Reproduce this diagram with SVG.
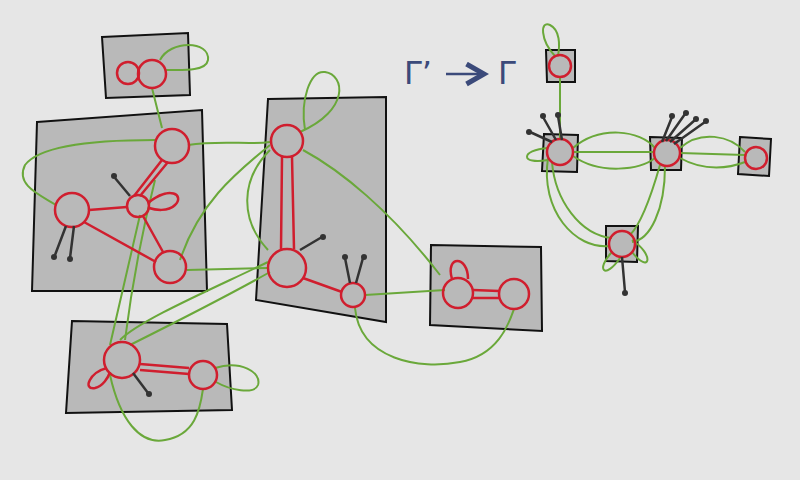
<svg xmlns="http://www.w3.org/2000/svg" width="800" height="480" viewBox="0 0 800 480">
<style>
.box{fill:#b9b9b9;stroke:#111;stroke-width:2}
.r{fill:none;stroke:#d01e2e;stroke-width:2.5}
.g{fill:none;stroke:#6aa83a;stroke-width:2}
.k{fill:none;stroke:#333;stroke-width:2.5}
.t{fill:#3b4a7a;font-family:"DejaVu Sans",sans-serif;font-size:32px}
</style>
<defs><marker id="a" markerWidth="10" markerHeight="10" refX="8" refY="5" orient="auto"><path d="M1,1 L8,5 L1,9" fill="none" stroke="#3b4a7a" stroke-width="2"/></marker></defs>
<rect width="800" height="480" fill="#e6e6e6"/>
<g id="boxes">
<polygon class="box" points="102,37 188,33 190,95 106,98"/>
<polygon class="box" points="37,122 202,110 207,291 32,291"/>
<polygon class="box" points="268,99 386,97 386,322 256,300"/>
<polygon class="box" points="72,321 227,324 232,410 66,413"/>
<polygon class="box" points="431,245 541,247 542,331 430,325"/>
<polygon class="box" points="546,50 575,50 575,82 547,82"/>
<polygon class="box" points="544,134 578,135 577,172 542,171"/>
<polygon class="box" points="650,137 682,138 681,170 651,170"/>
<polygon class="box" points="740,137 771,139 769,176 738,174"/>
<polygon class="box" points="606,226 638,226 637,262 606,261"/>
</g>
<g id="connectors">
<path class="g" d="M152,88 L162,128 M160,60 C170,40 210,40 208,60 C206,72 180,70 166,70"/>
<path class="g" d="M155,140 C100,140 40,145 25,165 C15,185 40,195 56,205"/>
<path class="g" d="M188,145 C220,140 250,145 270,142"/>
<path class="g" d="M305,130 C300,100 310,70 325,72 C345,75 350,110 300,132"/>
<path class="g" d="M303,150 C340,170 390,210 440,275"/>
<path class="g" d="M270,145 C240,170 200,200 180,260"/>
<path class="g" d="M187,270 L268,268"/>
<path class="g" d="M270,150 C240,180 240,220 268,250"/>
<path class="g" d="M270,272 C220,300 160,330 130,345"/>
<path class="g" d="M268,262 C210,290 140,320 120,340"/>
<path class="g" d="M140,215 C130,260 120,300 110,345"/>
<path class="g" d="M155,180 C140,240 130,300 125,340"/>
<path class="g" d="M110,375 C120,420 140,445 165,440 C195,435 200,410 203,389"/>
<path class="g" d="M215,368 C240,360 262,372 258,385 C254,395 230,390 216,382"/>
<path class="g" d="M365,295 L445,290"/>
<path class="g" d="M355,308 C360,360 420,370 460,362 C500,355 510,320 514,309"/>
<path class="g" d="M560,77 L560,139 M555,56 C540,40 540,20 550,25 C560,30 560,45 558,56"/>
<path class="g" d="M573,148 C600,125 640,130 655,148 M573,156 C600,175 640,170 655,158 M573,152 L655,152"/>
<path class="g" d="M680,148 C700,130 730,135 745,152 M680,158 C705,172 730,168 745,162 M680,153 L745,155"/>
<path class="g" d="M548,158 C540,210 575,250 610,246 M552,162 C555,200 580,235 612,238"/>
<path class="g" d="M665,166 C665,210 650,240 632,242 M660,165 C650,200 640,225 630,235"/>
<path class="g" d="M548,148 C520,150 520,165 548,160"/>
<path class="g" d="M612,252 C595,270 605,280 620,258 M632,252 C650,275 655,255 632,240"/>
</g>
<g id="red">
<circle class="r" cx="128" cy="73" r="11"/><circle class="r" cx="152" cy="74" r="14"/>
<path class="r" d="M139,70 L138,72 M138,76 L139,78"/>
<circle class="r" cx="172" cy="146" r="17"/><circle class="r" cx="72" cy="210" r="17"/>
<circle class="r" cx="138" cy="206" r="11"/><circle class="r" cx="170" cy="267" r="16"/>
<path class="r" d="M148,203 C170,185 185,195 175,205 C168,212 155,210 149,208"/>
<path class="r" d="M134,196 L162,160 M140,196 L168,162 M89,210 L127,207 M84,222 L156,262 M143,216 L163,252"/>
<circle class="r" cx="287" cy="141" r="16"/><circle class="r" cx="287" cy="268" r="19"/><circle class="r" cx="353" cy="295" r="12"/>
<path class="r" d="M282,157 L281,249 M292,157 L294,249 M303,278 L342,292"/>
<circle class="r" cx="122" cy="360" r="18"/><circle class="r" cx="203" cy="375" r="14"/>
<path class="r" d="M107,368 C90,372 82,390 95,388 C103,386 108,378 110,372 M140,364 L189,368 M140,370 L189,374"/>
<circle class="r" cx="458" cy="293" r="15"/><circle class="r" cx="514" cy="294" r="15"/>
<path class="r" d="M452,279 C445,255 468,255 468,279 M473,290 L499,291 M473,298 L499,298"/>
<circle class="r" cx="560" cy="66" r="11"/><circle class="r" cx="560" cy="152" r="13"/>
<circle class="r" cx="667" cy="153" r="13"/><circle class="r" cx="756" cy="158" r="11"/><circle class="r" cx="622" cy="244" r="13"/>
</g>
<g id="legs">
<path class="k" d="M130,196 L115,178 M66,226 L55,255 M74,226 L70,258 M300,250 L322,237 M350,283 L345,258 M356,283 L363,258 M133,373 L148,393"/>
<path class="k" d="M552,142 L530,132 M556,140 L543,117 M562,140 L558,116 M662,142 L672,117 M666,141 L685,114 M670,142 L695,120 M674,144 L705,122 M622,257 L625,292"/>
<g fill="#333"><circle cx="114" cy="176" r="3"/><circle cx="54" cy="257" r="3"/><circle cx="70" cy="259" r="3"/><circle cx="323" cy="237" r="3"/><circle cx="345" cy="257" r="3"/><circle cx="364" cy="257" r="3"/><circle cx="149" cy="394" r="3"/><circle cx="529" cy="132" r="3"/><circle cx="543" cy="116" r="3"/><circle cx="558" cy="115" r="3"/><circle cx="672" cy="116" r="3"/><circle cx="686" cy="113" r="3"/><circle cx="696" cy="119" r="3"/><circle cx="706" cy="121" r="3"/><circle cx="625" cy="293" r="3"/></g>
</g>
<g id="label">
<text class="t" x="404" y="84">Γ’</text>
<path d="M446,74 L484,74" stroke="#3b4a7a" stroke-width="2.5" fill="none" marker-end="url(#a)"/>
<text class="t" x="498" y="84">Γ</text>
</g>
</svg>
